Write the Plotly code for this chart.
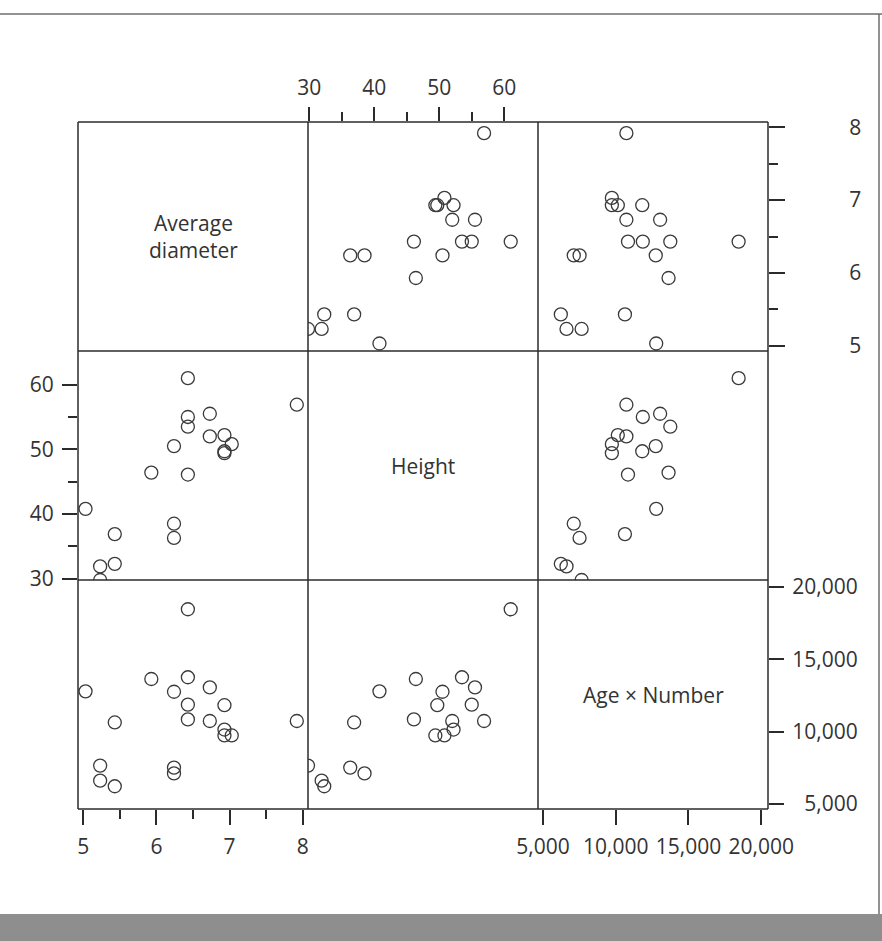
import plotly.graph_objects as go
from plotly.subplots import make_subplots

# ---- data: 20 trees ----
diameter = [6.43, 7.92, 6.43, 6.43, 6.43, 6.73, 6.73, 6.93, 6.93, 6.93,
            7.03, 6.24, 6.24, 6.24, 5.93, 5.43, 5.43, 5.23, 5.23, 5.03]
height = [61.0, 56.9, 55.0, 53.5, 46.1, 55.5, 52.0, 52.2, 49.7, 49.4,
          50.8, 50.5, 38.5, 36.3, 46.4, 36.9, 32.3, 31.9, 29.8, 40.8]
age_number = [18450, 10730, 11860, 13750, 10840, 13050, 10730, 10140, 11820, 9730,
              9730, 12750, 7110, 7510, 13630, 10630, 6220, 6610, 7650, 12780]

var_names = ["Average<br>diameter", "Height", "Age × Number"]
diam_ticks = [5, 6, 7, 8]
diam_minor = [5.5, 6.5, 7.5]
height_ticks = [30, 40, 50, 60]
height_minor = [35, 45, 55]
age_ticks = [5000, 10000, 15000, 20000]
age_ticktext_bottom = ["5,000", "10,000", "15,000", "20,000"]
age_ticktext_right = ["\u20075,000", "10,000", "15,000", "20,000"]

data = [diameter, height, age_number]
ranges = [[4.927, 8.073], [29.8, 65.2], [4650, 20470]]

INK = "#2b2b2b"
FONT = dict(family="Open Sans", size=21, color="#333333")

# plot box in pixels
L, R, T, B = 78, 768, 122, 809
W, H = 882, 941
PW, PH = R - L, B - T

fig = make_subplots(rows=3, cols=3, horizontal_spacing=0, vertical_spacing=0)

for r in range(3):
    for c in range(3):
        if r != c:
            fig.add_trace(go.Scatter(
                x=data[c], y=data[r], mode="markers",
                marker=dict(symbol="circle-open", size=13, color="#3a3a3a",
                            line=dict(width=1.3, color="#3a3a3a")),
                showlegend=False, hoverinfo="skip"), row=r + 1, col=c + 1)
        else:
            # empty trace so the diagonal subplot (axes) is rendered
            fig.add_trace(go.Scatter(x=[None], y=[None], mode="markers",
                                     showlegend=False, hoverinfo="skip"),
                          row=r + 1, col=c + 1)
        base = dict(showline=False, showgrid=False, zeroline=False, ticks="",
                    showticklabels=False, tickfont=FONT, tickcolor=INK, tickwidth=1.5)
        fig.update_xaxes(range=ranges[c], **base, row=r + 1, col=c + 1)
        fig.update_yaxes(range=ranges[r], **base, row=r + 1, col=c + 1)

minor_style = dict(ticks="outside", ticklen=9, tickwidth=1.5, tickcolor=INK, showgrid=False)

# bottom of column 1: diameter
fig.update_xaxes(ticks="outside", ticklen=15, tickvals=diam_ticks, showticklabels=True,
                 minor=dict(tickvals=diam_minor, **minor_style), ticklabelstandoff=4,
                 row=3, col=1)
# top of column 2: height
fig.update_xaxes(side="top", ticks="outside", ticklen=14, tickvals=height_ticks,
                 showticklabels=True, minor=dict(tickvals=height_minor, **minor_style),
                 ticklabelstandoff=4, row=1, col=2)
# bottom of column 3: age x number
fig.update_xaxes(ticks="outside", ticklen=15, tickvals=age_ticks, ticktext=age_ticktext_bottom,
                 showticklabels=True, ticklabelstandoff=4, row=3, col=3)
# left of row 2: height
fig.update_yaxes(ticks="outside", ticklen=15, tickvals=height_ticks, showticklabels=True,
                 minor=dict(tickvals=height_minor, **minor_style), ticklabelstandoff=4,
                 row=2, col=1)
# right of row 1: diameter
fig.update_yaxes(side="right", ticks="outside", ticklen=16, tickvals=diam_ticks,
                 showticklabels=True, minor=dict(tickvals=diam_minor, **minor_style),
                 ticklabelstandoff=60, row=1, col=3)
# right of row 3: age x number
fig.update_yaxes(side="right", ticks="outside", ticklen=15, tickvals=age_ticks,
                 ticktext=age_ticktext_right, showticklabels=True, ticklabelstandoff=4,
                 row=3, col=3)

# diagonal labels
diag_refs = [("x", "y"), ("x5", "y5"), ("x9", "y9")]
for i, (xr, yr) in enumerate(diag_refs):
    fig.add_annotation(text=var_names[i], xref=xr + " domain", yref=yr + " domain",
                       x=0.5, y=0.5, showarrow=False, align="center", font=FONT)


def px_x(p):
    return (p - L) / PW


def px_y(p):
    return (B - p) / PH


shapes = []
# cell frame lines (drawn once each)
for k in range(4):
    xk = k / 3
    yk = k / 3
    shapes.append(dict(type="line", xref="paper", yref="paper", x0=xk, x1=xk, y0=0, y1=1,
                       line=dict(color=INK, width=1.5)))
    shapes.append(dict(type="line", xref="paper", yref="paper", x0=0, x1=1, y0=yk, y1=yk,
                       line=dict(color=INK, width=1.5)))
# scanned-page frame
shapes.append(dict(type="line", xref="paper", yref="paper", x0=px_x(-5), x1=px_x(W + 5),
                   y0=px_y(14), y1=px_y(14), line=dict(color="#6e6e6e", width=1.5)))
shapes.append(dict(type="line", xref="paper", yref="paper", x0=px_x(879), x1=px_x(879),
                   y0=px_y(914), y1=px_y(14), line=dict(color="#6e6e6e", width=1.5)))
shapes.append(dict(type="rect", xref="paper", yref="paper", x0=px_x(-5), x1=px_x(W + 5),
                   y0=px_y(H + 5), y1=px_y(914), fillcolor="#8e8e8e", line=dict(width=0)))

fig.update_layout(
    width=W, height=H,
    margin=dict(l=L, r=W - R, t=T, b=H - B),
    paper_bgcolor="white", plot_bgcolor="white",
    font=FONT,
    shapes=shapes,
)

fig.write_html("out.html")
